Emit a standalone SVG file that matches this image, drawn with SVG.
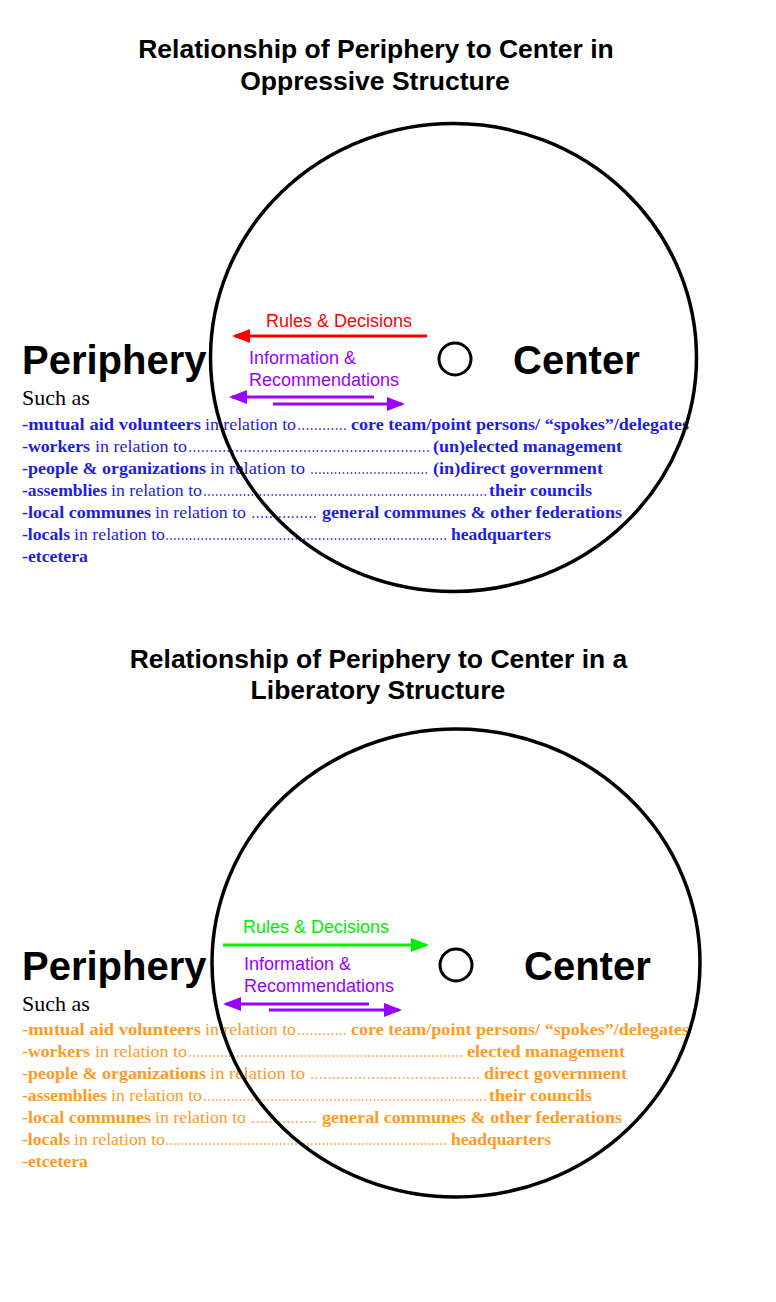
<svg xmlns="http://www.w3.org/2000/svg" width="776" height="1302" viewBox="0 0 776 1302">
<style>
.title{font-family:"Liberation Sans",Arial,sans-serif;font-weight:bold;font-size:26.5px;fill:#000;text-anchor:middle}
.big{font-family:"Liberation Sans",Arial,sans-serif;font-weight:bold;font-size:40px;fill:#000}
.lbl{font-family:"Liberation Sans",Arial,sans-serif;font-size:18px}
.such{font-family:"Liberation Serif","Times New Roman",serif;font-size:22px;fill:#000}
.li{font-family:"Liberation Serif","Times New Roman",serif;font-size:17.5px}
.b{font-weight:bold}
.blue{fill:#1c1ce8}
.orange{fill:#ff9a1f}
.ring{fill:none;stroke:#000;stroke-width:3.5}
.dot{fill:none;stroke:#000;stroke-width:3}
.arr{fill:none;stroke-width:3}
</style>
<defs>
<marker id="hRed" viewBox="0 0 18 14" refX="15" refY="7" markerWidth="18" markerHeight="14" markerUnits="userSpaceOnUse" orient="auto"><path d="M0,0 L18,7 L0,14 Z" fill="#ff0000"/></marker>
<marker id="hPurple" viewBox="0 0 18 14" refX="15" refY="7" markerWidth="18" markerHeight="14" markerUnits="userSpaceOnUse" orient="auto"><path d="M0,0 L18,7 L0,14 Z" fill="#9900ff"/></marker>
<marker id="hGreen" viewBox="0 0 18 14" refX="15" refY="7" markerWidth="18" markerHeight="14" markerUnits="userSpaceOnUse" orient="auto"><path d="M0,0 L18,7 L0,14 Z" fill="#00ee00"/></marker>
</defs>
<rect width="776" height="1302" fill="#fff"/>

<!-- Top diagram -->
<g id="title-oppressive">
<text class="title" x="376" y="58">Relationship of Periphery to Center in</text>
<text class="title" x="375" y="90">Oppressive Structure</text>
</g>

<g id="periphery-top">
<text class="big" x="22" y="374">Periphery</text>
<text class="such" x="22" y="405">Such as</text>
<g class="li blue">
<text y="430"><tspan class="b" x="22" textLength="179" lengthAdjust="spacingAndGlyphs">-mutual aid volunteers</tspan> <tspan x="205" textLength="91" lengthAdjust="spacingAndGlyphs">in relation to</tspan><tspan x="297" textLength="50" lengthAdjust="spacingAndGlyphs">…………</tspan> <tspan class="b" x="351" textLength="338" lengthAdjust="spacingAndGlyphs">core team/point persons/ “spokes”/delegates</tspan></text>
<text y="452"><tspan class="b" x="22" textLength="68" lengthAdjust="spacingAndGlyphs">-workers</tspan> <tspan x="95" textLength="92" lengthAdjust="spacingAndGlyphs">in relation to</tspan><tspan x="188" textLength="242" lengthAdjust="spacingAndGlyphs">…………………………………………………</tspan> <tspan class="b" x="433" textLength="189" lengthAdjust="spacingAndGlyphs">(un)elected management</tspan></text>
<text y="474"><tspan class="b" x="22" textLength="184" lengthAdjust="spacingAndGlyphs">-people &amp; organizations</tspan> <tspan x="210" textLength="95" lengthAdjust="spacingAndGlyphs">in  relation to</tspan> <tspan x="310" textLength="118" lengthAdjust="spacingAndGlyphs">…………………………</tspan> <tspan class="b" x="433" textLength="170" lengthAdjust="spacingAndGlyphs">(in)direct government</tspan></text>
<text y="496"><tspan class="b" x="22" textLength="85" lengthAdjust="spacingAndGlyphs">-assemblies</tspan> <tspan x="111" textLength="91" lengthAdjust="spacingAndGlyphs">in relation to</tspan><tspan x="203" textLength="284" lengthAdjust="spacingAndGlyphs">………………………………………………………………</tspan><tspan class="b" x="489" textLength="103" lengthAdjust="spacingAndGlyphs">their councils</tspan></text>
<text y="518"><tspan class="b" x="22" textLength="129" lengthAdjust="spacingAndGlyphs">-local communes</tspan> <tspan x="155" textLength="91" lengthAdjust="spacingAndGlyphs">in relation to</tspan> <tspan x="251" textLength="66" lengthAdjust="spacingAndGlyphs">……………</tspan> <tspan class="b" x="322" textLength="300" lengthAdjust="spacingAndGlyphs">general communes &amp; other federations</tspan></text>
<text y="540"><tspan class="b" x="22" textLength="48" lengthAdjust="spacingAndGlyphs">-locals</tspan> <tspan x="74" textLength="91" lengthAdjust="spacingAndGlyphs">in relation to</tspan><tspan x="165" textLength="282" lengthAdjust="spacingAndGlyphs">………………………………………………………………</tspan> <tspan class="b" x="451" textLength="100" lengthAdjust="spacingAndGlyphs">headquarters</tspan></text>
<text y="562"><tspan class="b" x="22" textLength="66" lengthAdjust="spacingAndGlyphs">-etcetera</tspan></text>
</g>
</g>

<g id="center-top">
<circle class="dot" cx="455" cy="359" r="16"/>
<text class="big" x="513" y="374">Center</text>
</g>

<g id="boundary-top">
<ellipse class="ring" cx="453.5" cy="357.5" rx="243" ry="234"/>
</g>

<g id="connectors-top">
<text class="lbl" x="266" y="327" fill="#ff0000">Rules &amp; Decisions</text>
<line class="arr" x1="427" y1="336" x2="235" y2="336" stroke="#ff0000" marker-end="url(#hRed)"/>
<text class="lbl" x="249" y="364" fill="#9900ff">Information &amp;</text>
<text class="lbl" x="249" y="386" fill="#9900ff">Recommendations</text>
<line class="arr" x1="374" y1="397" x2="232" y2="397" stroke="#9900ff" marker-end="url(#hPurple)"/>
<line class="arr" x1="273" y1="404" x2="402" y2="404" stroke="#9900ff" marker-end="url(#hPurple)"/>
</g>

<!-- Bottom diagram -->
<g id="title-liberatory">
<text class="title" x="378.5" y="668">Relationship of Periphery to Center in a</text>
<text class="title" x="378" y="699">Liberatory Structure</text>
</g>

<g id="periphery-bottom">
<text class="big" x="22" y="980">Periphery</text>
<text class="such" x="22" y="1011">Such as</text>
<g class="li orange">
<text y="1035"><tspan class="b" x="22" textLength="179" lengthAdjust="spacingAndGlyphs">-mutual aid volunteers</tspan> <tspan x="205" textLength="91" lengthAdjust="spacingAndGlyphs">in relation to</tspan><tspan x="297" textLength="50" lengthAdjust="spacingAndGlyphs">…………</tspan> <tspan class="b" x="351" textLength="338" lengthAdjust="spacingAndGlyphs">core team/point persons/ “spokes”/delegates</tspan></text>
<text y="1057"><tspan class="b" x="22" textLength="68" lengthAdjust="spacingAndGlyphs">-workers</tspan> <tspan x="95" textLength="92" lengthAdjust="spacingAndGlyphs">in relation to</tspan><tspan x="188" textLength="275" lengthAdjust="spacingAndGlyphs">……………………………………………………………</tspan> <tspan class="b" x="467" textLength="158" lengthAdjust="spacingAndGlyphs">elected management</tspan></text>
<text y="1079"><tspan class="b" x="22" textLength="184" lengthAdjust="spacingAndGlyphs">-people &amp; organizations</tspan> <tspan x="210" textLength="95" lengthAdjust="spacingAndGlyphs">in  relation to</tspan> <tspan x="310" textLength="170" lengthAdjust="spacingAndGlyphs">…………………………………</tspan> <tspan class="b" x="484" textLength="143" lengthAdjust="spacingAndGlyphs">direct government</tspan></text>
<text y="1101"><tspan class="b" x="22" textLength="85" lengthAdjust="spacingAndGlyphs">-assemblies</tspan> <tspan x="111" textLength="91" lengthAdjust="spacingAndGlyphs">in relation to</tspan><tspan x="203" textLength="284" lengthAdjust="spacingAndGlyphs">………………………………………………………………</tspan><tspan class="b" x="489" textLength="103" lengthAdjust="spacingAndGlyphs">their councils</tspan></text>
<text y="1123"><tspan class="b" x="22" textLength="129" lengthAdjust="spacingAndGlyphs">-local communes</tspan> <tspan x="155" textLength="91" lengthAdjust="spacingAndGlyphs">in relation to</tspan> <tspan x="251" textLength="66" lengthAdjust="spacingAndGlyphs">……………</tspan> <tspan class="b" x="322" textLength="300" lengthAdjust="spacingAndGlyphs">general communes &amp; other federations</tspan></text>
<text y="1145"><tspan class="b" x="22" textLength="48" lengthAdjust="spacingAndGlyphs">-locals</tspan> <tspan x="74" textLength="91" lengthAdjust="spacingAndGlyphs">in relation to</tspan><tspan x="165" textLength="282" lengthAdjust="spacingAndGlyphs">………………………………………………………………</tspan> <tspan class="b" x="451" textLength="100" lengthAdjust="spacingAndGlyphs">headquarters</tspan></text>
<text y="1167"><tspan class="b" x="22" textLength="66" lengthAdjust="spacingAndGlyphs">-etcetera</tspan></text>
</g>
</g>

<g id="center-bottom">
<circle class="dot" cx="456" cy="965" r="16"/>
<text class="big" x="524" y="980">Center</text>
</g>

<g id="boundary-bottom">
<ellipse class="ring" cx="456" cy="963" rx="244" ry="234"/>
</g>

<g id="connectors-bottom">
<text class="lbl" x="243" y="933" fill="#00ee00">Rules &amp; Decisions</text>
<line class="arr" x1="223" y1="945" x2="426" y2="945" stroke="#00ee00" marker-end="url(#hGreen)"/>
<text class="lbl" x="244" y="970" fill="#9900ff">Information &amp;</text>
<text class="lbl" x="244" y="992" fill="#9900ff">Recommendations</text>
<line class="arr" x1="369" y1="1004" x2="226" y2="1004" stroke="#9900ff" marker-end="url(#hPurple)"/>
<line class="arr" x1="269" y1="1010" x2="399" y2="1010" stroke="#9900ff" marker-end="url(#hPurple)"/>
</g>
</svg>
